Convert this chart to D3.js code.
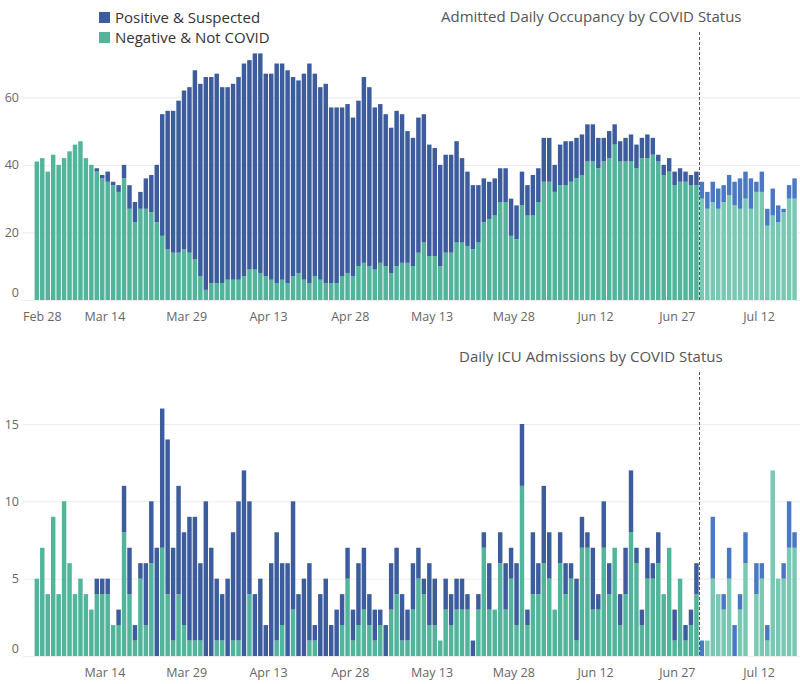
<!DOCTYPE html>
<html><head><meta charset="utf-8">
<script src="https://cdn.jsdelivr.net/npm/d3@7"></script>
<style>
body{margin:0;background:#fff;}
svg{display:block;font-family:"Open Sans",sans-serif;}
</style>
</head><body>
<svg id="chart" width="800" height="684"></svg>
<script>
// ---------- data ----------
const firstDay = "2020-03-01";           // first bar; one bar per day
const axisStart = "2020-02-28";
const axisEnd = "2020-07-19T12:00";
const dashedDate = "2020-07-01";

const seriesNames = ["Positive & Suspected", "Negative & Not COVID"];
const titles = ["Admitted Daily Occupancy by COVID Status", "Daily ICU Admissions by COVID Status"];

const occNegative = [41,42,38,43,40,42,44,46,47,42, 40,38,36,35,34,32,36,27,23,27,
  27,26,23,19,15,14,14,15,14,12, 7,3,5,5,5,6,6,6,7,9, 9,8,7,6,5,6,5,7,8,6,
  5,7,6,5,5,5,7,8,7,10, 11,10,9,11,10,8,10,11,11,10, 14,17,13,13,10,14,14,17,17,16,
  15,17,23,24,25,29,29,19,18,28, 25,25,29,35,35,32,34,34,35,36, 37,41,41,39,41,42,46,41,41,41,
  39,42,42,43,41,37,38,34,35,35, 34,34,30,27,29,27,29,31,28,27, 30,27,32,32,22,25,23,26,30,30];
const occPositive = [0,0,0,0,0,0,0,0,0,0, 0,1,1,3,1,2,4,7,6,5,
  9,11,17,36,41,42,45,47,49,56, 57,63,61,62,58,57,58,60,63,62, 64,65,60,61,65,64,63,59,57,61,
  65,60,57,59,52,52,50,50,47,49, 55,53,48,47,45,43,46,44,39,38, 40,38,33,32,30,29,29,30,25,22,
  19,17,13,11,11,10,10,11,10,10, 9,12,10,13,13,8,12,13,12,12, 12,11,11,9,7,8,6,6,7,8,
  7,6,7,5,2,3,4,4,4,3, 3,4,5,5,6,6,5,6,7,9, 8,9,3,6,5,8,5,1,4,6];

const icuNegative = [5,7,4,9,4,10,6,4,5,4, 3,4,4,4,2,2,8,4,1,5,
  2,6,0,7,4,1,4,2,1,1, 1,0,0,1,1,0,1,1,0,4, 0,0,0,0,1,2,0,3,0,0,
  1,1,0,0,0,0,2,5,1,2, 3,2,1,2,0,3,4,1,1,3, 5,4,2,2,1,3,2,3,3,3,
  0,3,7,3,3,6,3,5,2,11, 2,4,4,6,5,3,6,4,5,1, 7,7,3,3,7,4,7,2,4,8,
  6,2,5,5,6,4,7,1,5,1, 2,4,0,1,5,4,3,5,0,3, 6,0,4,5,1,12,5,5,7,7];
const icuPositive = [0,0,0,0,0,0,0,0,0,0, 0,1,1,1,0,1,3,3,1,1,
  4,4,7,9,10,6,7,6,8,8, 5,10,7,4,3,5,7,9,12,6, 4,5,2,6,7,4,6,7,4,5,
  5,1,4,5,2,3,2,2,2,4, 4,2,2,1,2,3,3,3,2,3, 2,1,4,3,0,2,2,2,2,1,
  1,1,1,3,0,2,3,2,4,4, 1,4,2,5,3,0,2,2,1,4, 2,1,4,1,3,2,0,2,3,4,
  1,1,2,1,2,0,0,2,0,1, 1,2,1,0,4,0,1,2,2,1, 2,0,2,1,1,0,0,1,3,1];

const occXTicks = ["2020-02-28","2020-03-14","2020-03-29","2020-04-13","2020-04-28","2020-05-13","2020-05-28","2020-06-12","2020-06-27","2020-07-12"];
const icuXTicks = ["2020-03-14","2020-03-29","2020-04-13","2020-04-28","2020-05-13","2020-05-28","2020-06-12","2020-06-27","2020-07-12"];
const occYTicks = [0,20,40,60];
const icuYTicks = [0,5,10,15];

// ---------- drawing ----------
const svg = d3.select("#chart");
const parse = s => new Date(s.length > 10 ? s : s + "T00:00");
const fmt = d3.timeFormat("%b %-d");
const colors = {
  pos: "#3c5c9d", neg: "#52b49a",
  posLight: "#4a78c3", negLight: "#78c8b3"
};
const dashDay = parse(dashedDate);

const x = d3.scaleTime().domain([parse(axisStart), parse(axisEnd)]).range([23.2, 800]);

function panel(opts) {
  const days = opts.neg.map((_, i) => d3.timeDay.offset(parse(firstDay), i));
  const rows = days.map((d, i) => ({date: d, neg: opts.neg[i], pos: opts.pos[i]}));
  const stack = d3.stack().keys(["neg", "pos"])(rows);
  const y = d3.scaleLinear().domain(opts.yDomain).range(opts.yRange);
  const g = svg.append("g");

  g.append("g").selectAll("line").data(opts.yTicks).join("line")
    .attr("x1", 23).attr("x2", 800)
    .attr("y1", d => y(d) + 0.5).attr("y2", d => y(d) + 0.5)
    .attr("stroke", "#ececec").attr("stroke-width", 1);

  g.append("g").selectAll("text").data(opts.yTicks).join("text")
    .attr("x", 19).attr("y", d => d === 0 ? y(d) - 3 : y(d) + 4.5)
    .attr("text-anchor", "end").attr("font-size", 12.5).attr("fill", "#666")
    .text(d => d);

  const bw = x(d3.timeDay.offset(parse(firstDay), 1)) - x(parse(firstDay));
  stack.forEach(layer => {
    const key = layer.key;
    g.append("g").selectAll("rect").data(layer).join("rect")
      .attr("x", d => x(d.data.date) + 0.5)
      .attr("width", bw - 1)
      .attr("y", d => y(d[1]))
      .attr("height", d => Math.max(0, y(d[0]) - y(d[1])))
      .attr("fill", d => {
        const light = d.data.date >= dashDay;
        return key === "pos" ? (light ? colors.posLight : colors.pos) : (light ? colors.negLight : colors.neg);
      });
  });

  const xt = opts.xTicks.map(parse);
  g.append("g").selectAll("text").data(xt).join("text")
    .attr("x", (d, i) => (i === 0 && opts.clampFirst) ? 23 : x(d))
    .attr("y", opts.xLabelY)
    .attr("text-anchor", (d, i) => (i === 0 && opts.clampFirst) ? "start" : "middle")
    .attr("font-size", 12.5).attr("fill", "#666")
    .text(d => fmt(d));

  g.append("line")
    .attr("x1", Math.round(x(dashDay)) + 0.5).attr("x2", Math.round(x(dashDay)) + 0.5)
    .attr("y1", opts.dashTop).attr("y2", y(0))
    .attr("stroke", "#555").attr("stroke-width", 1).attr("stroke-dasharray", "3,2");

  g.append("text").attr("x", opts.titleX).attr("y", opts.titleY)
    .attr("font-size", 15).attr("fill", "#555").text(opts.title);
}

panel({neg: occNegative, pos: occPositive, yDomain: [0, 60], yRange: [300, 97.3],
  yTicks: occYTicks, xTicks: occXTicks, clampFirst: true, xLabelY: 321,
  dashTop: 32, title: titles[0], titleX: 441, titleY: 22});

panel({neg: icuNegative, pos: icuPositive, yDomain: [0, 15], yRange: [656, 424],
  yTicks: icuYTicks, xTicks: icuXTicks, clampFirst: false, xLabelY: 677,
  dashTop: 372, title: titles[1], titleX: 459, titleY: 362});

const legend = svg.append("g");
const legendColors = [colors.pos, colors.neg];
seriesNames.forEach((name, i) => {
  legend.append("rect").attr("x", 99).attr("y", 12 + i * 20).attr("width", 11).attr("height", 11)
    .attr("fill", legendColors[i]);
  legend.append("text").attr("x", 115).attr("y", 23 + i * 20)
    .attr("font-size", 15).attr("fill", "#333").text(name);
});
</script>
</body></html>
